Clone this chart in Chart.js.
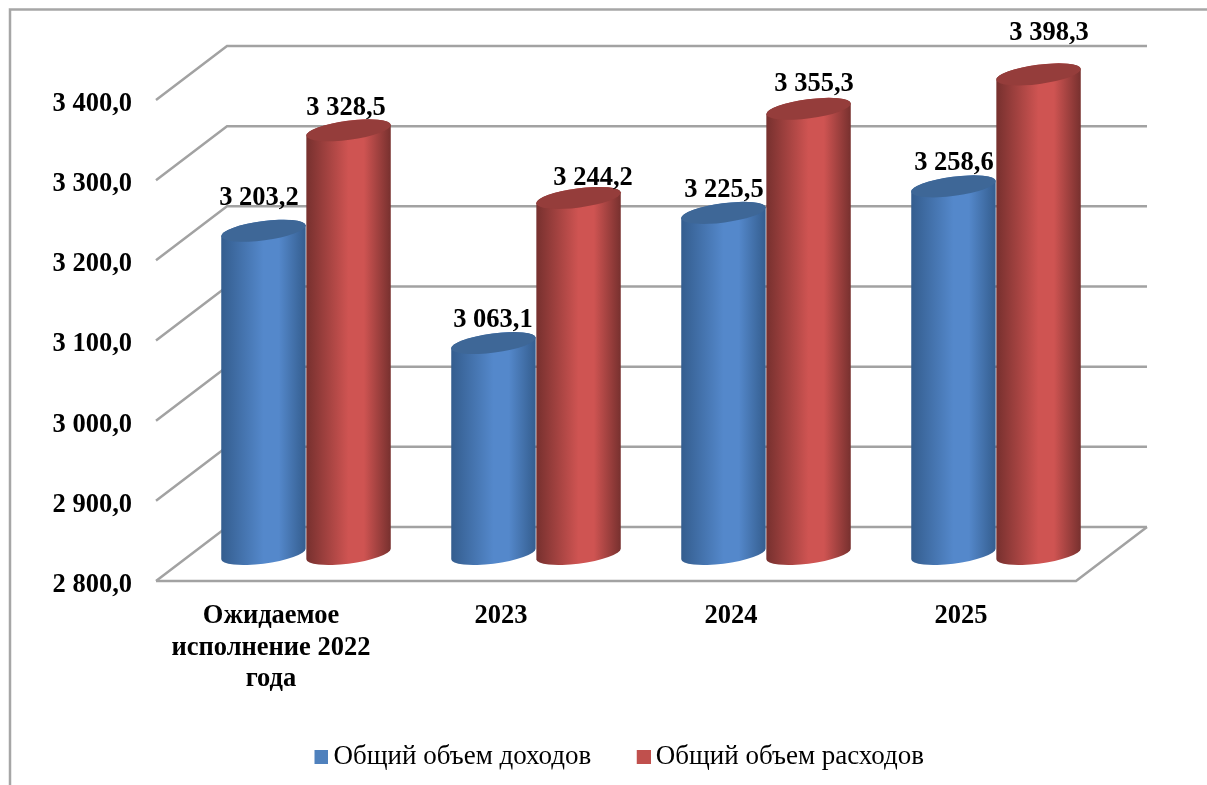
<!DOCTYPE html>
<html lang="ru">
<head>
<meta charset="utf-8">
<title>Доходы и расходы</title>
<script src="https://cdn.jsdelivr.net/npm/chart.js@4/dist/chart.umd.min.js"></script>
<style>
	html, body { margin: 0; padding: 0; background: #fff; overflow: hidden; }
	canvas { display: block; }
</style>
</head>
<body>
<canvas id="budget-chart" width="1207" height="785"></canvas>
<script>
'use strict';

var categories = [['Ожидаемое', 'исполнение 2022', 'года'], '2023', '2024', '2025'];
var incomeValues = [3203.2, 3063.1, 3225.5, 3258.6];
var expenseValues = [3328.5, 3244.2, 3355.3, 3398.3];
var seriesNames = ['Общий объем доходов', 'Общий объем расходов'];
var axisMin = 2800;
var axisMax = 3400;
var axisStep = 100;

var FONT = '"Liberation Serif", "Times New Roman", serif';
var BOLD_SIZE = 26.5;
var GRID_COLOR = '#a2a2a2';
// floor depth of the fake 3D box, in pixels
var DEPTH_X = 71;
var DEPTH_Y = -54;

var palette = [
	{ legend: '#4f81bd', top: '#3e6797', edge: '#345d8e', mid: '#5488cb' },
	{ legend: '#c0504d', top: '#953d3b', edge: '#76302e', mid: '#cf5452' }
];

// the value labels were dragged by hand in the original
var labelNudge = [
	[[-5, -33], [-1, -23], [0, -23], [0, -23]],
	[[-3, -22], [14, -20], [5, -25], [10, -41]]
];

function formatValue(v) {
	var s = v.toFixed(1).replace('.', ',');
	return s.charAt(0) + ' ' + s.substring(1);
}

// transparent strip on the left pulls the square closer to the legend text
function legendSwatch(color) {
	var c = document.createElement('canvas');
	c.width = 18;
	c.height = 14;
	var g = c.getContext('2d');
	g.fillStyle = color;
	g.fillRect(4, 0, 14, 14);
	return c;
}

var boxPlugin = {
	id: 'box3d',
	afterLayout: function (chart) {
		// legend sits right of the plot centre in the reference
		chart.legend.left += 63.5;
		chart.legend.right += 63.5;
		// y labels hang a little below their grid line
		chart.scales.y.getLabelItems(chart.chartArea).forEach(function (item) {
			item.options.translation[1] += 4;
		});
	},
	beforeDraw: function (chart) {
		var ctx = chart.ctx;
		ctx.save();
		ctx.strokeStyle = '#a6a6a6';
		ctx.lineWidth = 2.5;
		ctx.beginPath();
		ctx.moveTo(10, 785);
		ctx.lineTo(10, 9.5);
		ctx.lineTo(1207, 9.5);
		ctx.stroke();
		ctx.restore();
	},
	beforeDatasetsDraw: function (chart) {
		var ctx = chart.ctx;
		var yScale = chart.scales.y;
		var area = chart.chartArea;
		ctx.save();
		ctx.strokeStyle = GRID_COLOR;
		ctx.lineWidth = 2.5;
		yScale.ticks.forEach(function (tick) {
			var y = yScale.getPixelForValue(tick.value);
			ctx.beginPath();
			ctx.moveTo(area.left, y);
			ctx.lineTo(area.left + DEPTH_X, y + DEPTH_Y);
			ctx.lineTo(area.right + DEPTH_X, y + DEPTH_Y);
			ctx.stroke();
		});
		// floor
		ctx.beginPath();
		ctx.moveTo(area.left, area.bottom);
		ctx.lineTo(area.right, area.bottom);
		ctx.lineTo(area.right + DEPTH_X, area.bottom + DEPTH_Y);
		ctx.stroke();
		ctx.restore();
	},
	beforeDatasetDraw: function () {
		return false; // cylinders are drawn below instead of flat bars
	},
	afterDatasetsDraw: function (chart) {
		var ctx = chart.ctx;
		chart.data.datasets.forEach(function (ds, d) {
			chart.getDatasetMeta(d).data.forEach(function (bar) {
				drawCylinder(ctx, bar, palette[d]);
			});
		});
		ctx.save();
		ctx.fillStyle = '#000';
		ctx.font = 'bold ' + BOLD_SIZE + 'px ' + FONT;
		ctx.textAlign = 'center';
		ctx.textBaseline = 'middle';
		chart.data.datasets.forEach(function (ds, d) {
			chart.getDatasetMeta(d).data.forEach(function (bar, i) {
				var n = labelNudge[d][i];
				ctx.fillText(formatValue(ds.data[i]), bar.x + DEPTH_X / 2 + n[0], bar.y + DEPTH_Y / 2 + n[1]);
			});
		});
		ctx.restore();
	}
};

function drawCylinder(ctx, bar, colors) {
	var half = bar.width / 2;
	var cx = bar.x + DEPTH_X / 2 - 0.5;
	var topY = bar.y + DEPTH_Y / 2;
	var baseY = bar.base + DEPTH_Y / 2;
	var rot = -7.5 * Math.PI / 180;
	var rx = half;
	var ry = 9.6;
	// ellipse parameter where the tilted ellipse touches its left/right extremes
	var t0 = Math.atan2(-ry * Math.sin(rot), rx * Math.cos(rot));

	var grad = ctx.createLinearGradient(cx - half, 0, cx + half, 0);
	grad.addColorStop(0, colors.edge);
	grad.addColorStop(0.5, colors.mid);
	grad.addColorStop(0.68, colors.mid);
	grad.addColorStop(1, colors.edge);

	ctx.save();
	ctx.fillStyle = grad;
	ctx.beginPath();
	ctx.ellipse(cx, baseY, rx, ry, rot, t0, t0 + Math.PI);
	ctx.ellipse(cx, topY, rx, ry, rot, t0 + Math.PI, t0 + 2 * Math.PI);
	ctx.closePath();
	ctx.fill();

	ctx.fillStyle = colors.top;
	ctx.beginPath();
	ctx.ellipse(cx, topY, rx, ry, rot, 0, 2 * Math.PI);
	ctx.fill();
	ctx.restore();
}

new Chart(document.getElementById('budget-chart'), {
	type: 'bar',
	data: {
		labels: categories,
		datasets: [
			{ label: seriesNames[0], data: incomeValues, base: axisMin, backgroundColor: palette[0].legend, pointStyle: legendSwatch(palette[0].legend) },
			{ label: seriesNames[1], data: expenseValues, base: axisMin, backgroundColor: palette[1].legend, pointStyle: legendSwatch(palette[1].legend) }
		]
	},
	plugins: [boxPlugin],
	options: {
		responsive: false,
		animation: false,
		devicePixelRatio: 1,
		layout: { padding: { left: 40, right: 131, top: 100, bottom: 5 } },
		datasets: { bar: { categoryPercentage: 0.74, barPercentage: 1 } },
		scales: {
			x: {
				grid: { display: false },
				border: { display: false },
				ticks: {
					color: '#000',
					font: { family: FONT, size: BOLD_SIZE, weight: 'bold', lineHeight: 1.18 },
					maxRotation: 0,
					padding: 12
				},
				afterFit: function (scale) { scale.height = 112; }
			},
			y: {
				min: axisMin,
				max: axisMax,
				grid: { display: false },
				border: { display: false },
				ticks: {
					stepSize: axisStep,
					color: '#000',
					padding: 16,
					font: { family: FONT, size: BOLD_SIZE, weight: 'bold' },
					callback: function (v) { return formatValue(v); }
				},
				afterFit: function (scale) { scale.width = 116; }
			}
		},
		plugins: {
			title: { display: false },
			tooltip: { enabled: false },
			legend: {
				position: 'bottom',
				labels: {
					usePointStyle: true,
					boxWidth: 1,
					boxHeight: 1,
					padding: 50,
					color: '#000',
					font: { family: FONT, size: 27 }
				}
			}
		}
	}
});
</script>
</body>
</html>
